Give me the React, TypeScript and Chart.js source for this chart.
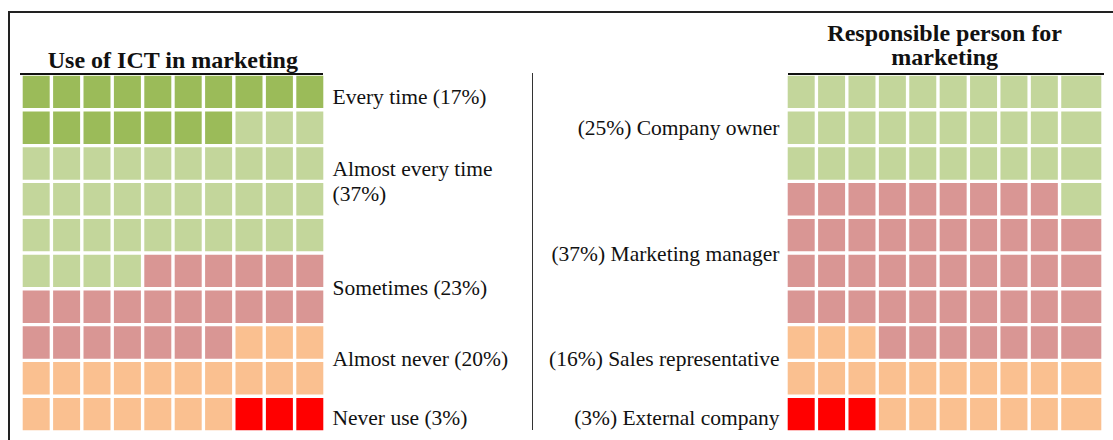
import React, { useEffect, useRef } from "react";
import { Chart, registerables } from "chart.js";

Chart.register(...registerables);

// ---------------- DATA ----------------
const LEFT_TITLE = "Use of ICT in marketing";
const LEFT_CATEGORIES = ["Every time", "Almost every time", "Sometimes", "Almost never", "Never use"];
const LEFT_PERCENT_LABELS = ["17%", "37%", "23%", "20%", "3%"];
const LEFT_CELL_COUNTS = [17, 37, 23, 20, 3];
const LEFT_COLORS = ["#9BBB59", "#C3D69B", "#D99694", "#FAC090", "#FF0000"];

const RIGHT_TITLE_LINES = ["Responsible person for", "marketing"];
const RIGHT_CATEGORIES = ["Company owner", "Marketing manager", "Sales representative", "External company"];
const RIGHT_PERCENT_LABELS = ["25%", "37%", "16%", "3%"];
const RIGHT_CELL_COUNTS = [31, 46, 20, 3];
const RIGHT_COLORS = ["#C3D69B", "#D99694", "#FAC090", "#FF0000"];

// ---------------- LAYOUT ----------------
const GRID_ROWS = 10;
const GRID_COLS = 10;
const GAP = 3.4;
const FONT = '"Liberation Serif", "Times New Roman", serif';
const LABEL_SIZE = 21.5;
const TITLE_SIZE = 24;

const LEFT_GRID = { x0: 22.7, x1: 323, y0: 76, y1: 431 };
const RIGHT_GRID = { x0: 787.7, x1: 1101.7, y0: 76, y1: 431 };
const RIGHT_LAST_COL_UNITS = 1.43;

// label baselines (px)
const LEFT_LABEL_BASELINES = [105, 176.7, 296, 367.3, 425.7];
const RIGHT_LABEL_BASELINES = [135.7, 261.7, 367.3, 425.7];

function buildGrid(counts: number[], fromBottom: boolean): number[][] {
  const grid: number[][] = Array.from({ length: GRID_ROWS }, () => new Array(GRID_COLS).fill(-1));
  const order = fromBottom ? counts.map((_, i) => counts.length - 1 - i) : counts.map((_, i) => i);
  let k = 0;
  for (const ci of order) {
    for (let i = 0; i < counts[ci]; i++) {
      const idx = k++;
      const r0 = Math.floor(idx / GRID_COLS);
      const c = idx % GRID_COLS;
      const r = fromBottom ? GRID_ROWS - 1 - r0 : r0;
      if (r >= 0 && r < GRID_ROWS) grid[r][c] = ci;
    }
  }
  return grid;
}

type WaffleProps = {
  grid: number[][];
  colors: string[];
  colEdges: number[];
  box: { x0: number; x1: number; y0: number; y1: number };
};

function Waffle({ grid, colors, colEdges, box }: WaffleProps) {
  const ref = useRef<HTMLCanvasElement | null>(null);
  const half = GAP / 2;
  const left = box.x0 - half;
  const top = box.y0 - half;
  const w = box.x1 - box.x0 + GAP;
  const h = box.y1 - box.y0 + GAP;

  useEffect(() => {
    if (!ref.current) return;
    const cols = colEdges.length - 1;
    const labels = grid.map((_, r) => `row ${r + 1}`);
    const datasets = Array.from({ length: cols }, (_, c) => ({
      label: `col ${c + 1}`,
      data: grid.map(() => [colEdges[c], colEdges[c + 1]] as [number, number]),
      backgroundColor: grid.map((row) => colors[row[c]] ?? "#ffffff"),
      borderColor: "rgba(0,0,0,0)",
      borderWidth: half,
      borderSkipped: false as const,
      grouped: false,
      barPercentage: 1,
      categoryPercentage: 1,
      inflateAmount: 0,
    }));
    const chart = new Chart(ref.current, {
      type: "bar",
      data: { labels, datasets: datasets as any },
      options: {
        indexAxis: "y",
        responsive: false,
        maintainAspectRatio: false,
        animation: false,
        events: [],
        layout: { padding: 0 },
        plugins: { legend: { display: false }, tooltip: { enabled: false }, title: { display: false } },
        scales: {
          x: { type: "linear", min: colEdges[0], max: colEdges[cols], display: false },
          y: { type: "category", display: false, offset: true },
        },
      },
    });
    return () => chart.destroy();
  }, []);

  return (
    <canvas
      ref={ref}
      width={Math.round(w)}
      height={Math.round(h)}
      style={{ position: "absolute", left, top, width: Math.round(w), height: Math.round(h) }}
    />
  );
}

function Label({ text, baseline, x, align, size = LABEL_SIZE, bold = false, width }: any) {
  const asc = 0.891 * size;
  const desc = 0.216 * size;
  const lh = size;
  const topOff = (lh - (asc + desc)) / 2 + asc;
  const style: React.CSSProperties = {
    position: "absolute",
    top: baseline - topOff,
    fontFamily: FONT,
    fontSize: size,
    lineHeight: `${lh}px`,
    fontWeight: bold ? "bold" : "normal",
    color: "#111",
    whiteSpace: "nowrap",
  };
  if (align === "left") style.left = x;
  else if (align === "right") style.right = 1113 - x;
  else {
    style.left = x;
    style.width = width;
    style.textAlign = "center";
  }
  return <div style={style}>{text}</div>;
}

export default function App() {
  const leftGrid = buildGrid(LEFT_CELL_COUNTS, false);
  const rightGrid = buildGrid(RIGHT_CELL_COUNTS, true);
  const leftEdges = Array.from({ length: GRID_COLS + 1 }, (_, i) => i);
  const rightEdges = Array.from({ length: GRID_COLS + 1 }, (_, i) =>
    i < GRID_COLS ? i : GRID_COLS - 1 + RIGHT_LAST_COL_UNITS
  );

  const leftTexts = LEFT_CATEGORIES.map((c, i) => `${c} (${LEFT_PERCENT_LABELS[i]})`);
  const rightTexts = RIGHT_CATEGORIES.map((c, i) => `(${RIGHT_PERCENT_LABELS[i]}) ${c}`);

  return (
    <div
      style={{
        position: "absolute",
        left: 0,
        top: 0,
        width: 1113,
        height: 440,
        overflow: "hidden",
        background: "#ffffff",
      }}
    >
      {/* frame */}
      <div
        style={{
          position: "absolute",
          left: 7.5,
          top: 11,
          width: 1200,
          height: 500,
          borderTop: "2.3px solid #222",
          borderLeft: "2.3px solid #222",
        }}
      />
      <Waffle grid={leftGrid} colors={LEFT_COLORS} colEdges={leftEdges} box={LEFT_GRID} />
      <Waffle grid={rightGrid} colors={RIGHT_COLORS} colEdges={rightEdges} box={RIGHT_GRID} />

      {/* title underlines */}
      <div style={{ position: "absolute", left: 20, top: 73.3, width: 303, height: 2, background: "#111" }} />
      <div style={{ position: "absolute", left: 787.7, top: 73.3, width: 316.5, height: 2, background: "#111" }} />
      {/* divider */}
      <div style={{ position: "absolute", left: 532.2, top: 73, width: 1, height: 357, background: "#333" }} />

      {/* titles */}
      <Label text={LEFT_TITLE} baseline={68.3} x={LEFT_GRID.x0 - 50} width={LEFT_GRID.x1 - LEFT_GRID.x0 + 100} align="center" size={TITLE_SIZE} bold />
      {RIGHT_TITLE_LINES.map((t, i) => (
        <Label key={t} text={t} baseline={40.7 + i * 24} x={RIGHT_GRID.x0 - 50} width={RIGHT_GRID.x1 - RIGHT_GRID.x0 + 100} align="center" size={TITLE_SIZE} bold />
      ))}

      {/* left labels */}
      {leftTexts.map((t, i) =>
        i === 1 ? (
          <React.Fragment key={t}>
            <Label text={`${LEFT_CATEGORIES[1]}`} baseline={LEFT_LABEL_BASELINES[1]} x={332.5} align="left" />
            <Label text={`(${LEFT_PERCENT_LABELS[1]})`} baseline={LEFT_LABEL_BASELINES[1] + 25} x={332.5} align="left" />
          </React.Fragment>
        ) : (
          <Label key={t} text={t} baseline={LEFT_LABEL_BASELINES[i]} x={332.5} align="left" />
        )
      )}
      {/* right labels */}
      {rightTexts.map((t, i) => (
        <Label key={t} text={t} baseline={RIGHT_LABEL_BASELINES[i]} x={779.5} align="right" />
      ))}
    </div>
  );
}
